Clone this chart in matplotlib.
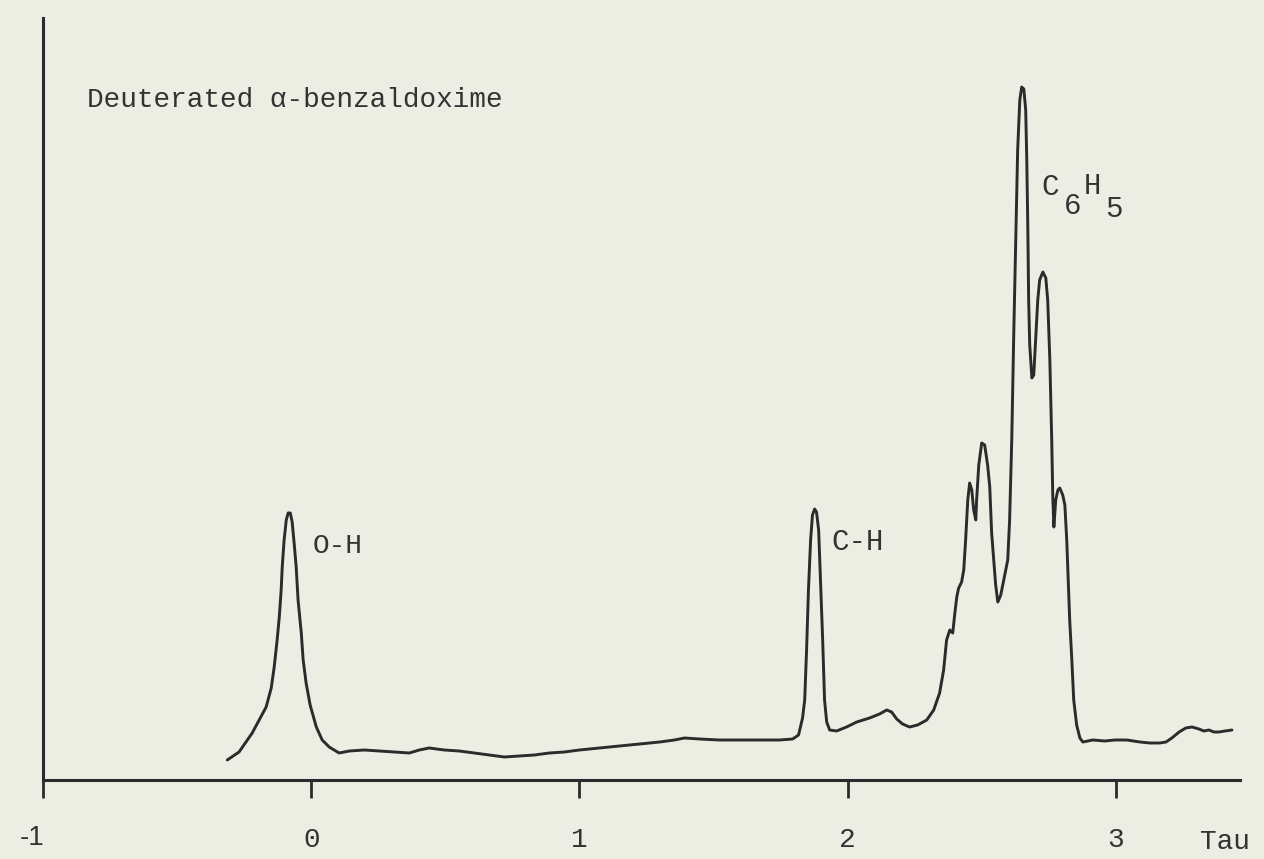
import matplotlib
matplotlib.use("Agg")
import matplotlib.pyplot as plt

# Chemical shift (Tau) and signal intensity
tau = [-0.313, -0.269, -0.220, -0.194, -0.168, -0.149, -0.138, -0.127, -0.119, -0.112,
       -0.108, -0.101, -0.093, -0.086, -0.078, -0.071, -0.063, -0.056, -0.049, -0.037,
       -0.030, -0.019, -0.004, 0.019, 0.041, 0.067, 0.104, 0.142, 0.198, 0.254,
       0.310, 0.366, 0.403, 0.440, 0.496, 0.552, 0.608, 0.664, 0.720, 0.776,
       0.832, 0.888, 0.944, 1.000, 1.075, 1.149, 1.224, 1.299, 1.354, 1.392,
       1.448, 1.522, 1.597, 1.672, 1.746, 1.795, 1.817, 1.832, 1.840, 1.847,
       1.854, 1.862, 1.869, 1.877, 1.884, 1.892, 1.899, 1.907, 1.914, 1.922,
       1.933, 1.959, 1.996, 2.034, 2.082, 2.119, 2.146, 2.164, 2.183, 2.205,
       2.231, 2.261, 2.295, 2.321, 2.343, 2.358, 2.369, 2.381, 2.392, 2.399,
       2.407, 2.414, 2.425, 2.433, 2.440, 2.448, 2.455, 2.463, 2.470, 2.478,
       2.481, 2.489, 2.500, 2.511, 2.522, 2.530, 2.537, 2.545, 2.552, 2.560,
       2.571, 2.586, 2.597, 2.604, 2.612, 2.619, 2.627, 2.634, 2.642, 2.649,
       2.657, 2.664, 2.668, 2.672, 2.675, 2.679, 2.687, 2.694, 2.701, 2.709,
       2.716, 2.728, 2.739, 2.746, 2.754, 2.761, 2.765, 2.769, 2.776, 2.784,
       2.791, 2.802, 2.810, 2.817, 2.821, 2.828, 2.836, 2.843, 2.854, 2.866,
       2.877, 2.896, 2.914, 2.959, 2.996, 3.041, 3.090, 3.127, 3.164, 3.187,
       3.209, 3.236, 3.261, 3.284, 3.310, 3.328, 3.347, 3.366, 3.384, 3.407,
       3.433]
intensity = [20, 28, 47, 60, 73, 92, 113, 140, 163, 190,
             213, 240, 260, 267, 267, 258, 235, 213, 180, 147,
             120, 97, 75, 53, 40, 33, 27, 29, 30, 29,
             28, 27, 30, 32, 30, 29, 27, 25, 23, 24,
             25, 27, 28, 30, 32, 34, 36, 38, 40, 42,
             41, 40, 40, 40, 40, 41, 45, 62, 80, 130,
             190, 240, 265, 271, 268, 250, 200, 140, 80, 58,
             50, 49, 53, 58, 62, 66, 70, 68, 61, 56,
             53, 55, 60, 70, 87, 110, 140, 150, 147, 165,
             183, 192, 198, 210, 240, 280, 297, 290, 270, 260,
             280, 315, 337, 335, 315, 293, 247, 220, 195, 178,
             185, 205, 220, 260, 340, 440, 540, 630, 680, 693,
             691, 670, 620, 550, 480, 435, 402, 405, 440, 480,
             500, 508, 502, 480, 420, 340, 283, 253, 280, 290,
             292, 285, 275, 240, 210, 160, 120, 80, 55, 42,
             38, 39, 40, 39, 40, 40, 38, 37, 37, 38,
             42, 48, 52, 53, 51, 49, 50, 48, 48, 49,
             50]

tick_values = [-1, 0, 1, 2, 3]
tick_labels = ["", "0", "1", "2", "3"]
title_text = "Deuterated \u03b1-benzaldoxime"
peak_labels = ["O-H", "C-H"]
axis_label = "Tau"

BG = "#ECEDE3"
INK = "#2b2b2b"
MONO = ["Liberation Mono", "DejaVu Sans Mono"]

fig = plt.figure(figsize=(12.64, 8.59), dpi=100, facecolor=BG)
ax = fig.add_axes([43 / 1264, 79 / 859, (1240 - 43) / 1264, (780 - 18) / 859])
ax.set_facecolor(BG)

ax.plot(tau, intensity, color=INK, lw=2.1, solid_joinstyle="round", solid_capstyle="round")

ax.set_xlim(-1.0, 3.463)
ax.set_ylim(0, 762)

for s in ["top", "right"]:
    ax.spines[s].set_visible(False)
for s in ["left", "bottom"]:
    ax.spines[s].set_linewidth(2.2)
    ax.spines[s].set_color(INK)

ax.set_yticks([])
ax.set_xticks(tick_values)
ax.set_xticklabels(tick_labels, fontfamily=MONO, fontsize=20, color="#333333")
ax.tick_params(axis="x", which="major", direction="out", length=13, width=2.0,
               color=INK, pad=21)
ax.set_xticks([0], minor=True)
ax.tick_params(axis="x", which="minor", direction="in", length=12, width=2.0, color=INK)

# texts
ax.text(-0.836, 680, title_text, family=MONO, fontsize=20, color="#333333",
        ha="left", va="center")
ax.text(0.004, 234, peak_labels[0], family=MONO, fontsize=20, color="#333333",
        ha="left", va="center")
ax.text(1.940, 238, peak_labels[1], family=MONO, fontsize=21, color="#333333",
        ha="left", va="center")
for s, x, y in [("C", 2.724, 593), ("6", 2.806, 574), ("H", 2.880, 594), ("5", 2.962, 571)]:
    ax.text(x, y, s, family=MONO, fontsize=21, color="#333333", ha="left", va="center")

ax.text(-0.993, -58, "-1", family=["Liberation Sans", "DejaVu Sans"], fontsize=20,
        color="#333333", ha="right", va="center", clip_on=False)
ax.text(3.313, -62, axis_label, family=MONO, fontsize=20, color="#333333",
        ha="left", va="center", clip_on=False)

fig.savefig("out.png", dpi=100, facecolor=BG)
